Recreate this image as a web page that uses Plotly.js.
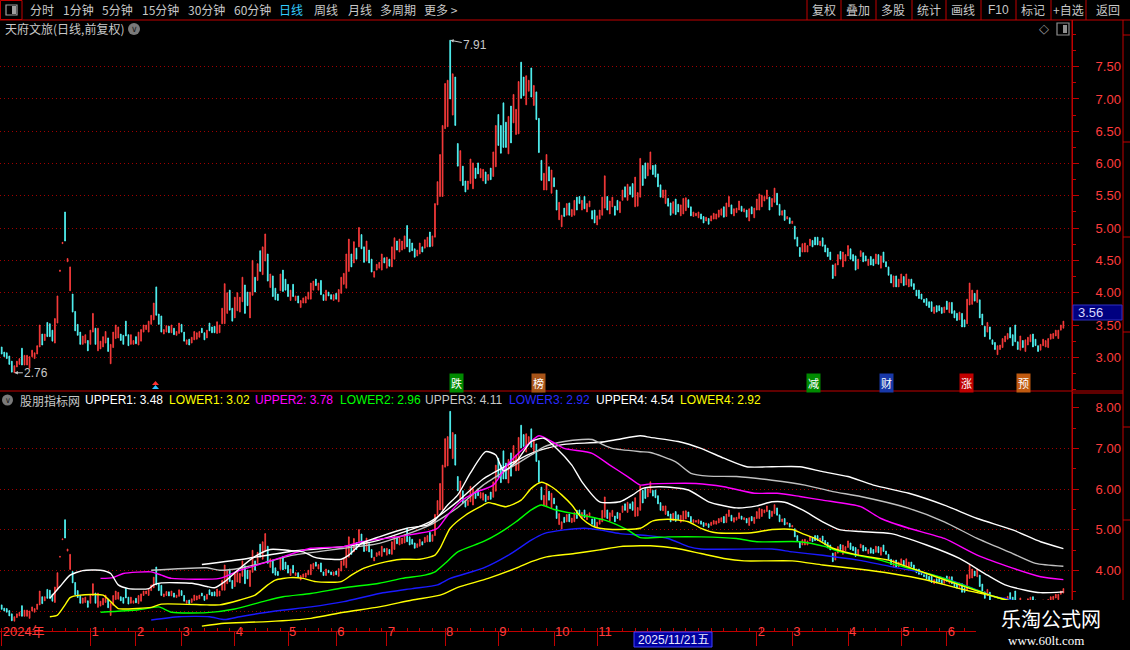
<!DOCTYPE html>
<html>
<head>
<meta charset="utf-8">
<script src="https://cdn.plot.ly/plotly-3.0.1.min.js"></script>
<style>
html,body{margin:0;padding:0;background:#000;}
#chart{width:1130px;height:650px;}
</style>
</head>
<body>
<div id="chart"></div>
<script>
// ---------- DATA ----------
// daily candles (open / close), 420 trading days
const openP = [
3.16,3.08,3.07,3.02,2.94,2.76,2.85,2.89,3.14,2.88,
2.88,2.83,3.01,2.98,3.05,3.16,3.36,3.26,3.54,3.52,
3.42,3.22,3.53,4.33,4.76,5.25,4.48,4.03,3.98,3.71,
3.51,3.39,3.20,3.22,3.26,3.20,3.39,3.45,3.10,3.13,
3.16,3.22,3.30,2.90,3.15,3.29,3.30,3.36,3.34,3.56,
3.35,3.20,3.20,3.32,3.19,3.25,3.39,3.43,3.39,3.51,
3.58,4.09,3.67,3.64,3.36,3.39,3.48,3.38,3.45,3.34,
3.37,3.51,3.39,3.20,3.28,3.22,3.27,3.28,3.31,3.45,
3.38,3.30,3.53,3.47,3.48,3.37,3.38,3.52,3.52,3.68,
4.04,3.76,3.61,3.72,3.70,3.86,4.12,4.01,3.61,3.96,
4.24,4.19,4.65,4.28,4.49,4.60,4.08,4.26,4.07,3.98,
4.03,4.35,4.21,4.13,3.88,4.13,3.88,3.95,3.77,3.84,
3.84,3.90,3.90,4.04,4.21,4.04,4.19,3.97,3.88,4.01,
3.97,3.88,3.99,3.86,3.99,4.13,4.07,4.33,4.60,4.46,
4.69,4.71,4.90,4.71,4.49,4.66,4.52,4.24,4.35,4.38,
4.35,4.54,4.38,4.52,4.40,4.52,4.80,4.63,4.66,4.68,
5.04,4.83,4.77,4.68,4.57,4.60,4.71,4.69,4.71,4.94,
4.72,4.86,5.36,5.49,5.49,6.54,6.57,7.91,6.75,7.34,
6.31,5.73,5.96,5.73,5.60,5.69,5.61,5.93,6.01,5.78,
5.73,5.87,5.74,5.93,5.80,5.95,6.76,6.59,6.94,6.64,
6.15,6.89,6.63,6.45,6.46,7.57,7.34,6.91,7.12,7.48,
6.90,7.11,6.70,6.05,5.59,5.59,5.95,5.54,5.78,5.59,
5.13,5.02,5.31,5.20,5.39,5.18,5.20,5.48,5.49,5.28,
5.49,5.25,5.33,5.27,5.28,5.05,5.14,5.20,5.31,5.49,
5.22,5.33,5.34,5.43,5.24,5.43,5.64,5.43,5.64,5.69,
5.33,5.34,5.48,5.97,6.01,5.81,5.91,5.97,5.98,5.84,
5.67,5.47,5.38,5.46,5.39,5.23,5.45,5.37,5.19,5.22,
5.27,5.44,5.33,5.18,5.19,5.16,5.22,5.18,5.11,5.15,
5.11,5.14,5.14,5.17,5.20,5.33,5.18,5.33,5.36,5.19,
5.24,5.28,5.34,5.25,5.28,5.11,5.33,5.16,5.28,5.28,
5.33,5.42,5.45,5.48,5.33,5.40,5.54,5.37,5.20,5.28,
5.14,5.16,5.07,5.03,4.86,4.70,4.63,4.63,4.63,4.73,
4.81,4.86,4.86,4.73,4.85,4.74,4.69,4.63,4.43,4.26,
4.43,4.64,4.40,4.49,4.57,4.68,4.59,4.57,4.37,4.56,
4.62,4.57,4.42,4.56,4.52,4.45,4.59,4.38,4.63,4.48,
4.40,4.28,4.09,4.26,4.09,4.15,4.25,4.12,4.09,4.21,
4.14,4.04,4.04,3.98,3.90,3.91,3.86,3.86,3.68,3.80,
3.80,3.77,3.69,3.87,3.69,3.85,3.72,3.68,3.58,3.68,
3.58,3.52,3.81,3.82,3.99,3.85,3.89,3.67,3.48,3.39,
3.47,3.27,3.23,3.04,3.12,3.15,3.24,3.28,3.46,3.35,
3.50,3.24,3.11,3.26,3.09,3.19,3.24,3.36,3.28,3.18,
3.11,3.18,3.16,3.15,3.28,3.29,3.33,3.29,3.42,3.45
];
const closeP = [
3.05,3.01,2.98,2.89,2.77,2.87,2.94,2.98,2.88,3.03,
3.03,3.01,3.11,3.07,3.18,3.50,3.19,3.36,3.32,3.32,
3.25,3.60,3.95,4.35,4.78,4.80,4.53,4.40,3.70,3.41,
3.34,3.20,3.33,3.35,3.10,3.42,3.68,3.20,3.45,3.25,
3.32,3.40,3.09,3.20,3.39,3.50,3.47,3.26,3.20,3.33,
3.18,3.35,3.26,3.21,3.39,3.43,3.50,3.50,3.56,3.65,
3.84,3.65,3.51,3.39,3.43,3.49,3.38,3.50,3.35,3.40,
3.53,3.39,3.25,3.27,3.19,3.31,3.40,3.38,3.40,3.38,
3.27,3.42,3.41,3.38,3.38,3.55,3.50,3.76,4.14,4.00,
3.73,3.56,3.93,4.00,3.93,4.24,3.68,3.80,4.01,4.50,
4.01,4.45,4.33,4.71,4.91,4.18,4.29,3.94,3.89,3.88,
4.29,4.02,4.04,3.94,4.04,3.94,3.95,3.84,3.88,3.92,
3.94,4.01,4.15,4.18,4.11,4.15,3.97,3.88,4.04,3.95,
3.90,3.97,3.90,4.05,4.24,4.30,4.60,4.83,4.40,4.79,
4.52,5.01,4.68,4.47,4.80,4.46,4.32,4.33,4.44,4.47,
4.60,4.46,4.55,4.41,4.71,4.85,4.66,4.83,4.80,4.88,
4.71,4.63,4.65,4.55,4.66,4.77,4.63,4.82,4.86,4.71,
4.88,5.38,5.72,6.14,6.59,7.24,7.29,7.00,7.39,6.59,
5.96,6.20,5.66,5.56,5.73,6.07,6.01,5.77,5.84,5.92,
5.91,5.69,5.83,5.75,6.18,6.59,6.28,6.16,6.25,6.25,
6.73,6.32,7.07,6.84,7.27,7.01,7.05,7.36,7.29,7.03,
7.21,6.68,6.17,5.74,5.85,6.14,5.73,5.90,5.64,5.28,
5.40,5.20,5.18,5.38,5.20,5.29,5.43,5.28,5.38,5.43,
5.30,5.38,5.42,5.14,5.08,5.19,5.28,5.48,5.81,5.28,
5.42,5.48,5.20,5.28,5.41,5.59,5.48,5.68,5.52,5.48,
5.79,5.55,6.08,5.66,5.77,6.01,6.18,5.83,5.79,5.64,
5.48,5.59,5.59,5.34,5.20,5.41,5.21,5.25,5.36,5.46,
5.47,5.32,5.19,5.25,5.23,5.25,5.14,5.08,5.17,5.06,
5.19,5.23,5.22,5.28,5.30,5.17,5.39,5.49,5.22,5.30,
5.31,5.42,5.26,5.30,5.17,5.30,5.22,5.31,5.45,5.53,
5.51,5.49,5.59,5.28,5.46,5.62,5.36,5.20,5.27,5.12,
5.18,5.07,5.11,4.83,4.72,4.56,4.76,4.77,4.73,4.83,
4.71,4.74,4.74,4.80,4.72,4.63,4.56,4.51,4.22,4.45,
4.59,4.52,4.63,4.59,4.73,4.52,4.49,4.35,4.52,4.65,
4.48,4.49,4.52,4.43,4.42,4.60,4.44,4.57,4.47,4.40,
4.27,4.15,4.26,4.09,4.21,4.29,4.11,4.29,4.21,4.10,
4.05,3.95,3.91,3.90,3.85,3.80,3.77,3.71,3.78,3.70,
3.72,3.68,3.78,3.74,3.85,3.68,3.61,3.57,3.70,3.47,
3.47,3.90,4.15,4.04,3.87,4.04,3.61,3.50,3.32,3.54,
3.28,3.20,3.12,3.18,3.19,3.29,3.33,3.37,3.30,3.18,
3.24,3.12,3.33,3.15,3.27,3.31,3.35,3.16,3.18,3.09,
3.20,3.28,3.26,3.29,3.36,3.37,3.42,3.42,3.50,3.56
];

// indicator bands: bar index / value pairs
const upper1X = [19,23,27,32,39,43,46,50,58,60,63,75,81,84,88,94,100,106,113,119,123,126,134,137,142,149,160,168,171,176,180,185,191,195,198,203,209,214,219,225,229,236,244,249,253,260,271,279,290,298,304,309,316,324,331,339,351,365,378,389,396,404,410,419];
const upper1Y = [3.32,3.61,3.89,4.00,4.01,3.93,3.65,3.56,3.56,3.65,3.70,3.69,3.61,3.58,3.73,4.06,4.35,4.52,4.50,4.46,4.34,4.30,4.28,4.38,4.67,4.83,5.04,5.12,5.24,5.61,5.86,6.40,6.92,6.84,6.45,6.67,7.17,7.25,7.00,6.59,6.18,5.69,5.69,5.86,6.02,6.06,5.98,5.69,5.54,5.59,5.69,5.68,5.49,5.20,5.00,4.96,4.91,4.63,4.30,3.89,3.65,3.52,3.46,3.48];
const lower1X = [19,22,25,27,31,40,43,46,48,59,63,81,86,94,100,105,108,114,119,124,134,138,143,149,158,165,171,173,177,183,190,192,195,199,205,209,213,217,221,225,229,233,236,241,252,257,263,271,276,282,296,304,312,316,321,328,338,350,355,365,378,388,392,405,419];
const lower1Y = [2.87,2.91,3.16,3.34,3.40,3.40,3.24,3.07,3.06,3.10,3.18,3.16,3.16,3.28,3.40,3.65,3.77,3.83,3.81,3.73,3.73,3.89,4.06,4.18,4.28,4.28,4.38,4.55,5.04,5.36,5.61,5.67,5.63,5.57,5.73,6.02,6.17,6.06,5.86,5.61,5.28,5.10,5.04,5.01,5.04,5.22,5.26,5.20,5.04,4.93,4.93,5.01,5.01,4.91,4.79,4.55,4.38,4.26,4.15,3.93,3.65,3.44,3.36,3.15,3.02];
const upper2X = [39,44,48,59,63,67,86,94,103,111,122,135,142,156,169,172,176,181,187,194,200,206,212,217,222,233,240,247,252,256,274,285,297,306,315,324,339,347,358,372,385,399,410,419];
const upper2Y = [3.81,3.83,3.93,3.97,3.89,3.81,3.81,4.01,4.18,4.34,4.55,4.59,4.71,4.83,4.97,5.04,5.36,5.69,5.92,6.10,6.63,7.00,7.31,7.17,7.00,6.88,6.59,6.31,6.10,6.13,6.14,6.06,5.90,5.90,5.82,5.73,5.57,5.28,5.04,4.79,4.38,4.06,3.85,3.78];
const lower2X = [39,54,62,67,81,92,103,111,122,135,149,158,167,171,175,180,190,196,203,209,213,218,229,238,247,252,263,276,290,298,315,325,331,344,351,358,372,385,392,400,410,419];
const lower2Y = [2.98,3.04,3.11,2.98,2.97,3.06,3.24,3.36,3.44,3.58,3.69,3.81,3.89,3.97,4.18,4.46,4.71,4.91,5.20,5.49,5.61,5.50,5.36,5.24,5.00,4.81,4.83,4.83,4.79,4.71,4.71,4.59,4.46,4.30,4.18,4.06,3.81,3.52,3.36,3.22,3.07,2.96];
const upper3X = [59,81,86,94,105,115,135,149,169,180,190,200,209,214,222,229,233,237,241,252,256,266,272,279,290,304,317,328,339,358,372,385,399,408,419];
const upper3Y = [4.01,4.07,4.01,4.06,4.22,4.38,4.55,4.67,5.12,5.55,6.10,6.50,6.84,7.04,7.17,7.22,7.22,7.10,7.00,6.92,6.90,6.67,6.39,6.32,6.31,6.22,6.10,5.94,5.82,5.53,5.20,4.79,4.42,4.18,4.11];
const lower3X = [59,70,82,88,94,108,122,135,149,162,172,177,190,200,209,214,222,230,236,244,255,263,271,276,304,312,324,338,351,365,378,392,396,408,419];
const lower3Y = [2.79,2.87,2.87,2.80,2.87,3.01,3.11,3.24,3.44,3.56,3.65,3.81,4.06,4.38,4.75,4.91,5.00,5.04,5.00,4.91,4.86,4.79,4.59,4.53,4.53,4.46,4.38,4.26,4.10,3.93,3.69,3.36,3.32,3.10,2.92];
const upper4X = [79,97,116,135,149,169,180,190,200,209,215,222,236,243,252,256,267,276,285,294,304,315,324,334,344,358,372,385,399,410,419];
const upper4Y = [4.15,4.30,4.49,4.59,4.75,5.20,5.70,6.25,6.60,6.88,7.00,7.10,7.15,7.22,7.31,7.27,7.17,7.00,6.76,6.55,6.55,6.55,6.43,6.31,6.10,5.90,5.61,5.28,5.00,4.71,4.54];
const lower4X = [79,88,105,122,135,149,162,173,180,192,203,209,215,226,236,244,252,256,266,276,285,293,312,324,338,351,365,378,392,405,419];
const lower4Y = [2.64,2.71,2.75,2.83,2.98,3.11,3.28,3.40,3.59,3.81,4.06,4.22,4.34,4.42,4.51,4.59,4.61,4.61,4.55,4.42,4.30,4.24,4.24,4.14,4.04,3.93,3.77,3.56,3.36,3.12,2.92];

// axis ticks
const monthTickPos  = [0,35,53,71,92,113,132,152,175,196,218,235,298,312,334,355,373];
const monthTickText = ['2024年','1','2','3','4','5','6','7','8','9','10','11','2','3','4','5','6'];
const mainTicks  = [3.0,3.5,4.0,4.5,5.0,5.5,6.0,6.5,7.0,7.5];
const lowerTicks = [4,5,6,7,8];
const lowerGrid  = [3,4,5,6,7];

// ---------- BUILD ----------
const W = 1130, H = 650;
const idx  = openP.map((_, i) => i);
const highP = openP.map((o, i) => Math.max(o, closeP[i]));
const lowP  = openP.map((o, i) => Math.min(o, closeP[i]));

const RED = '#ff3c3c', CYAN = '#54fcfc', AX = '#c00000';
const CJK = 'Noto Sans CJK SC, sans-serif';
const LAT = 'Liberation Sans, Noto Sans CJK SC, sans-serif';

function candle(xa, ya) {
  return {
    type: 'candlestick', x: idx, open: openP, high: highP, low: lowP, close: closeP,
    xaxis: xa, yaxis: ya, whiskerwidth: 0, hoverinfo: 'skip',
    increasing: {line: {color: RED, width: 0.8}, fillcolor: RED},
    decreasing: {line: {color: CYAN, width: 0.8}, fillcolor: CYAN}
  };
}
function band(xs, ys, color) {
  return {type: 'scatter', mode: 'lines', x: xs, y: ys, xaxis: 'x', yaxis: 'y2',
    line: {color: color, width: 1.4, shape: 'spline', smoothing: 0.6}, hoverinfo: 'skip'};
}
const data = [
  candle('x2', 'y'),
  candle('x', 'y2'),
  band(lower4X, lower4Y, '#ffff00'),
  band(lower3X, lower3Y, '#1a1aff'),
  band(lower2X, lower2Y, '#00ff00'),
  band(lower1X, lower1Y, '#ffff00'),
  band(upper4X, upper4Y, '#ffffff'),
  band(upper3X, upper3Y, '#c0c0c0'),
  band(upper2X, upper2Y, '#ff00ff'),
  band(upper1X, upper1Y, '#ffffff')
];

// pixel helpers (paper coordinates)
const px = x => x / W, py = y => 1 - y / H;
function T(x, y, s, color, size, anchor, fam) {
  return {xref: 'paper', yref: 'paper', x: px(x), y: py(y), text: s, showarrow: false,
    xanchor: anchor || 'left', yanchor: 'middle',
    font: {family: fam || CJK, size: size || 12, color: color || '#c8c8c8'}};
}
function box(x, y, s, bg) {
  return {xref: 'paper', yref: 'paper', x: px(x), y: py(y), text: s, showarrow: false,
    xanchor: 'center', yanchor: 'middle', bgcolor: bg, borderpad: 1,
    font: {family: CJK, size: 11, color: '#ffffff'}};
}
function R(x0, y0, x1, y1, fill, line, lw) {
  return {type: 'rect', xref: 'paper', yref: 'paper', x0: px(x0), x1: px(x1), y0: py(y0), y1: py(y1),
    fillcolor: fill || 'rgba(0,0,0,0)', line: {color: line || 'rgba(0,0,0,0)', width: lw === undefined ? 1 : lw}, layer: 'above'};
}
function Ln(x0, y0, x1, y1, color) {
  return {type: 'line', xref: 'paper', yref: 'paper', x0: px(x0), x1: px(x1), y0: py(y0), y1: py(y1),
    line: {color: color || AX, width: 1}, layer: 'above'};
}

const last = a => a[a.length - 1];
const f2 = v => v.toFixed(2);

const shapes = [
  Ln(0, 20, W, 20),
  R(0.5, 0.5, 22, 19.5, null, AX),
  R(6, 5, 17, 15, null, '#a0a0a0', 1.2),
  R(12, 6, 16, 14, '#a0a0a0', null, 0),
  Ln(0, 391, 1123, 391),
  Ln(1072, 393, 1123, 393),
  Ln(1072, 20, 1072, 650),
  Ln(1123, 20, 1123, 650),
  {type: 'circle', xref: 'paper', yref: 'paper', x0: px(128), x1: px(140), y0: py(23), y1: py(35), fillcolor: '#7a7a7a', line: {width: 0}, layer: 'above'},
  {type: 'circle', xref: 'paper', yref: 'paper', x0: px(2), x1: px(13), y0: py(394.5), y1: py(405.5), fillcolor: '#7a7a7a', line: {width: 0}, layer: 'above'},
  R(1057, 23, 1069, 35, null, '#909090', 1.2),
  R(1063, 25, 1067, 33, '#909090', null, 0),
  R(1073, 305, 1122, 320, '#000080', '#3030c0', 1),
  R(634, 632, 712, 647, '#0000a0', '#4040ff', 1),
  R(976, 600, 1130, 650, '#000000', null, 0),
  // stacked event arrow marker (red over cyan) below the main panel
  {type: 'path', xref: 'paper', yref: 'paper', path: 'M ' + px(152) + ',' + py(385) + ' L ' + px(155.5) + ',' + py(381) + ' L ' + px(159) + ',' + py(385) + ' Z', fillcolor: '#ff3030', line: {width: 0}, layer: 'above'},
  {type: 'path', xref: 'paper', yref: 'paper', path: 'M ' + px(152) + ',' + py(389) + ' L ' + px(155.5) + ',' + py(385) + ' L ' + px(159) + ',' + py(389) + ' Z', fillcolor: '#30c0ff', line: {width: 0}, layer: 'above'}
];
[807, 841, 876, 912, 946, 981, 1016, 1051, 1086].forEach(x => shapes.push(Ln(x, 0, x, 20)));
// side panel cell separators (edge of a neighbouring panel)
[35, 142, 237, 332, 427, 520].forEach(y => shapes.push(Ln(1123, y, 1130, y)));

const annotations = [
  T(28, 10, '分时'), T(61, 10, '1分钟'), T(100, 10, '5分钟'), T(140, 10, '15分钟'),
  T(186, 10, '30分钟'), T(232, 10, '60分钟'), T(277, 10, '日线', '#33ccff'),
  T(312, 10, '周线'), T(346, 10, '月线'), T(378, 10, '多周期'), T(422, 10, '更多 >'),
  T(824, 10, '复权', null, 12, 'center'), T(858, 10, '叠加', null, 12, 'center'),
  T(893, 10, '多股', null, 12, 'center'), T(929, 10, '统计', null, 12, 'center'),
  T(963, 10, '画线', null, 12, 'center'), T(998, 10, 'F10', null, 12, 'center', LAT),
  T(1033, 10, '标记', null, 12, 'center'), T(1068, 10, '+自选', null, 12, 'center'),
  T(1108, 10, '返回', null, 12, 'center'),
  T(3, 29, '天府文旅(日线,前复权)'),
  T(134, 29.5, '∨', '#1a1a1a', 9, 'center', 'DejaVu Sans'),
  T(1044, 29, '◇', '#9a9a9a', 13, 'center', 'DejaVu Sans'),
  T(7.5, 400.5, '∨', '#1a1a1a', 8, 'center', 'DejaVu Sans'),
  T(18, 400, '股朋指标网'),
  T(83, 400, 'UPPER1: ' + f2(last(upper1Y)), '#ffffff', 12, 'left', LAT),
  T(167, 400, 'LOWER1: ' + f2(last(lower1Y)), '#ffff00', 12, 'left', LAT),
  T(253, 400, 'UPPER2: ' + f2(last(upper2Y)), '#ff00ff', 12, 'left', LAT),
  T(338, 400, 'LOWER2: ' + f2(last(lower2Y)), '#00ff00', 12, 'left', LAT),
  T(423, 400, 'UPPER3: ' + f2(last(upper3Y)), '#c8c8c8', 12, 'left', LAT),
  T(507, 400, 'LOWER3: ' + f2(last(lower3Y)), '#2a2aff', 12, 'left', LAT),
  T(594, 400, 'UPPER4: ' + f2(last(upper4Y)), '#ffffff', 12, 'left', LAT),
  T(678, 400, 'LOWER4: ' + f2(last(lower4Y)), '#ffff00', 12, 'left', LAT),
  // event markers
  box(456, 383, '跌', '#008a00'), box(538, 383, '榜', '#a85418'),
  box(813, 383, '减', '#008a00'), box(886, 383, '财', '#1838a8'),
  box(966, 383, '涨', '#c00000'), box(1023, 383, '预', '#c05a10'),
  // high / low marks
  {xref: 'x2', yref: 'y', x: highP.indexOf(Math.max(...highP)), y: Math.max(...highP), text: f2(Math.max(...highP)),
   showarrow: true, arrowhead: 2, arrowsize: 0.7, arrowwidth: 1, arrowcolor: '#c8c8c8', ax: 25, ay: 5,
   font: {family: LAT, size: 12, color: '#c8c8c8'}},
  {xref: 'x2', yref: 'y', x: lowP.indexOf(Math.min(...lowP)), y: Math.min(...lowP), text: f2(Math.min(...lowP)),
   showarrow: true, arrowhead: 2, arrowsize: 0.7, arrowwidth: 1, arrowcolor: '#c8c8c8', ax: 22, ay: 0,
   font: {family: LAT, size: 12, color: '#c8c8c8'}},
  // last price / cursor date
  T(1076, 312.5, f2(last(closeP)), '#d8d8ff', 13, 'left', LAT),
  T(673, 639.5, '2025/11/21五', '#e8e8ff', 12, 'center', LAT),
  // watermark
  T(1051, 618, '乐淘公式网', '#ffffff', 20, 'center', 'Noto Sans CJK SC'),
  T(1046, 640, 'www.60lt.com', '#ffffff', 13, 'center', 'Liberation Serif')
];

const yTickFont = {family: LAT, size: 13, color: RED};
const layout = {
  width: W, height: H, margin: {l: 0, r: 0, t: 0, b: 0},
  paper_bgcolor: '#000000', plot_bgcolor: '#000000',
  showlegend: false, hovermode: false, dragmode: false, boxgap: 0.55,
  xaxis: {
    domain: [0, 1072 / W], range: [-0.67, 422.4], anchor: 'y2',
    showgrid: false, zeroline: false, showline: true, linecolor: AX, linewidth: 1,
    ticks: 'outside', ticklen: 14, tickcolor: AX, tickwidth: 1,
    tickmode: 'array', tickvals: monthTickPos, ticktext: monthTickText,
    ticklabelposition: 'outside right', ticklabelstandoff: -12,
    tickfont: {family: LAT, size: 13, color: RED},
    minor: {tickmode: 'linear', tick0: 0, dtick: 5, ticks: 'inside', ticklen: 3, tickcolor: AX, showgrid: false},
    rangeslider: {visible: false}, fixedrange: true
  },
  xaxis2: {
    domain: [0, 1072 / W], matches: 'x', anchor: 'y', showticklabels: false, ticks: '',
    showgrid: false, zeroline: false, showline: false, rangeslider: {visible: false}, fixedrange: true
  },
  yaxis: {
    domain: [1 - 391 / H, 1 - 20 / H], range: [2.478, 8.223], anchor: 'x2', side: 'right',
    showline: true, linecolor: AX, ticks: 'outside', ticklen: 6, tickcolor: AX,
    tickmode: 'array', tickvals: mainTicks, tickformat: '.2f', tickfont: yTickFont, ticklabelstandoff: 14,
    showgrid: true, gridcolor: '#a00000', griddash: '1px,3px', zeroline: false,
    minor: {tickmode: 'linear', tick0: 0, dtick: 0.25, ticks: 'outside', ticklen: 3, tickcolor: AX, showgrid: false},
    fixedrange: true
  },
  yaxis2: {
    domain: [1 - 631 / H, 1 - 392 / H], range: [2.519, 8.385], anchor: 'x', side: 'right',
    showline: true, linecolor: AX, ticks: 'outside', ticklen: 6, tickcolor: AX,
    tickmode: 'array', tickvals: lowerTicks, tickformat: '.2f', tickfont: yTickFont, ticklabelstandoff: 14,
    showgrid: false, zeroline: false,
    minor: {tickmode: 'linear', tick0: 0, dtick: 0.5, ticks: 'outside', ticklen: 3, tickcolor: AX, showgrid: false},
    fixedrange: true
  },
  yaxis3: {
    overlaying: 'y2', range: [2.519, 8.385], side: 'right', anchor: 'x',
    tickmode: 'array', tickvals: lowerGrid, showticklabels: false, ticks: '',
    showgrid: true, gridcolor: '#a00000', griddash: '1px,3px', zeroline: false, showline: false, fixedrange: true
  },
  shapes: shapes,
  annotations: annotations
};
// invisible carrier trace so the lower-panel grid axis (yaxis3) is drawn
data.push({type: 'scatter', mode: 'lines', x: [0], y: [3], xaxis: 'x', yaxis: 'y3', line: {width: 0}, hoverinfo: 'skip'});

Plotly.newPlot('chart', data, layout, {staticPlot: true, displayModeBar: false});
</script>
</body>
</html>
